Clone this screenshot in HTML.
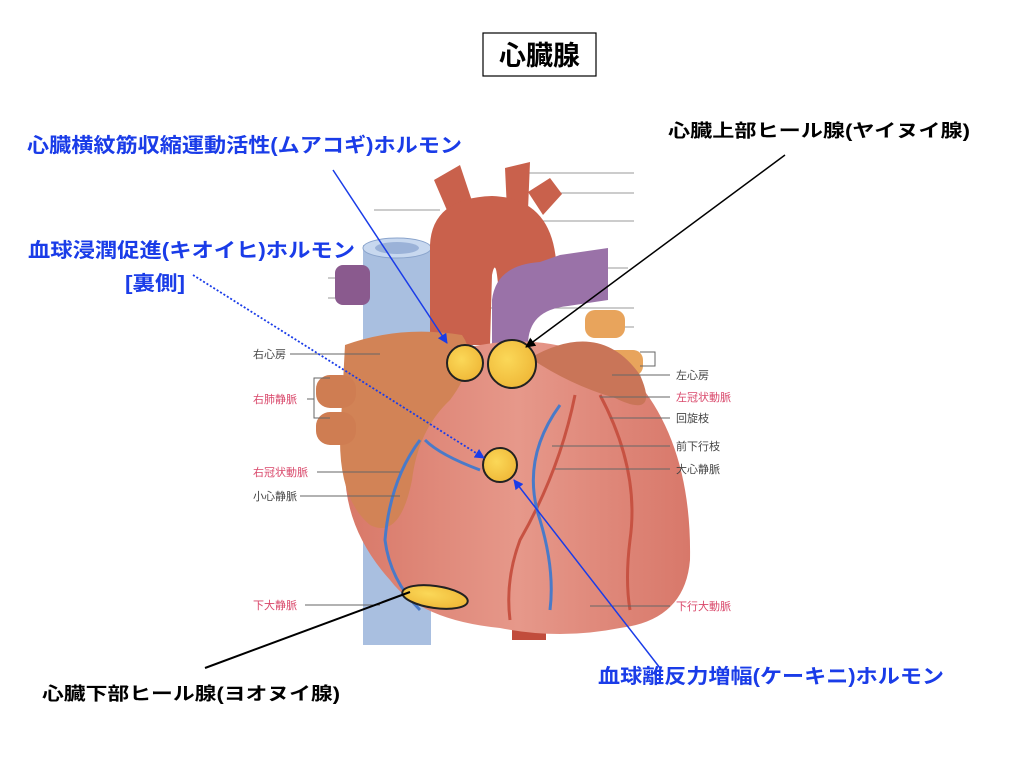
<!DOCTYPE html>
<html><head><meta charset="utf-8"><style>
html,body{margin:0;padding:0;background:#fff;width:1024px;height:768px;overflow:hidden}
svg{display:block}
.t{font-family:"Liberation Sans","Noto Sans CJK JP",sans-serif;font-weight:bold}
.s{font-family:"Liberation Sans","Noto Sans CJK JP",sans-serif;font-size:11px;fill:#444}
.r{fill:#d9476a}
</style></head><body>
<svg width="1024" height="768" viewBox="0 0 1024 768">
<defs>
<marker id="ab" markerWidth="10" markerHeight="10" refX="9" refY="5" orient="auto" markerUnits="userSpaceOnUse"><path d="M0,0 L10,5 L0,10 z" fill="#1a3ce8"/></marker>
<marker id="ak" markerWidth="10" markerHeight="10" refX="9" refY="5" orient="auto" markerUnits="userSpaceOnUse"><path d="M0,0 L10,5 L0,10 z" fill="#000"/></marker>
<radialGradient id="y" cx="0.4" cy="0.4" r="0.7"><stop offset="0" stop-color="#fbd858"/><stop offset="1" stop-color="#eeb535"/></radialGradient>
<linearGradient id="hb" x1="0" y1="0" x2="1" y2="0"><stop offset="0" stop-color="#d87868"/><stop offset="0.5" stop-color="#e6988a"/><stop offset="1" stop-color="#d8786a"/></linearGradient>
</defs>
<text class="t" x="0" y="0" font-size="1"> </text>
<rect x="483" y="33" width="113" height="43" fill="#fff" stroke="#000" stroke-width="1.2"/>
<text class="t" x="539.5" y="65" font-size="27" text-anchor="middle">心臓腺</text>

<g stroke="#999" stroke-width="1">
<line x1="516" y1="173" x2="634" y2="173"/><line x1="547" y1="193" x2="634" y2="193"/>
<line x1="494" y1="221" x2="634" y2="221"/><line x1="374" y1="210" x2="440" y2="210"/>
<line x1="562" y1="268" x2="628" y2="268"/><line x1="456" y1="308" x2="634" y2="308"/>
<line x1="612" y1="327" x2="634" y2="327"/><line x1="328" y1="278" x2="390" y2="278"/>
<line x1="328" y1="298" x2="355" y2="298"/>
</g>
<!-- vena cava -->
<rect x="363" y="245" width="68" height="400" fill="#a9bfe0"/>
<ellipse cx="397" cy="248" rx="34" ry="10" fill="#c8d8ef" stroke="#8aa4cc"/>
<ellipse cx="397" cy="248" rx="22" ry="6" fill="#9bb2d8"/>
<!-- purple -->
<rect x="335" y="265" width="35" height="40" rx="8" fill="#8a5a8e"/>
<!-- aorta branches -->
<path d="M434,180 L460,165 L475,210 L452,222 z" fill="#c9614c"/>
<path d="M505,168 L530,162 L528,210 L507,210 z" fill="#c9614c"/>
<path d="M528,192 L550,178 L562,194 L543,215 z" fill="#c9614c"/>
<!-- aorta arch -->
<path d="M430,345 L430,245 Q432,198 492,196 Q550,198 556,260 L556,300 L500,300 L497,275 Q495,260 492,275 L490,345 z" fill="#c9614c"/>
<!-- pulmonary -->
<path d="M492,345 L492,300 Q496,265 540,262 L560,255 L608,248 L608,300 L568,306 Q528,310 528,345 z" fill="#9a72a8"/>
<!-- orange vessels right -->
<rect x="585" y="310" width="40" height="28" rx="10" fill="#e8a45c"/>
<rect x="605" y="350" width="38" height="26" rx="10" fill="#e8a45c"/>
<!-- descending aorta stub -->
<rect x="512" y="610" width="34" height="30" fill="#c14c3c"/>
<!-- heart body -->
<path d="M345,470 Q355,390 450,352 Q560,320 640,385 Q692,450 690,560 Q685,620 620,628 Q560,640 500,628 Q420,620 390,580 Q345,530 345,470 z" fill="url(#hb)"/>
<path d="M530,358 Q600,318 640,375 Q660,420 615,398 Q570,385 530,358 z" fill="#c97558"/>
<!-- right atrium -->
<path d="M345,345 Q400,325 462,335 Q480,360 450,400 Q418,430 412,480 Q400,540 370,525 Q340,500 340,440 z" fill="#d28356"/>
<rect x="316" y="375" width="40" height="33" rx="14" fill="#cf7d52"/>
<rect x="316" y="412" width="40" height="33" rx="14" fill="#cf7d52"/>
<g fill="none" stroke-width="3">
<path d="M575,395 Q560,470 520,540 Q505,580 510,620" stroke="#c75242"/>
<path d="M600,395 Q640,470 630,540 Q625,580 630,610" stroke="#c75242"/>
<path d="M420,440 Q390,480 385,540 Q390,580 420,610" stroke="#4a7ac8"/>
<path d="M560,405 Q520,460 540,520 Q555,570 550,610" stroke="#4a7ac8"/>
<path d="M480,470 Q440,455 425,440" stroke="#4a7ac8"/>
</g>
<g stroke="#666" stroke-width="1" fill="none">
<line x1="290" y1="354" x2="380" y2="354"/><line x1="307" y1="399" x2="314" y2="399"/>
<polyline points="330,378 314,378 314,418 330,418"/>
<line x1="317" y1="472" x2="400" y2="472"/><line x1="300" y1="496" x2="400" y2="496"/>
<line x1="305" y1="605" x2="380" y2="605"/>
<line x1="612" y1="375" x2="670" y2="375"/><line x1="600" y1="397" x2="670" y2="397"/>
<line x1="610" y1="418" x2="670" y2="418"/><line x1="552" y1="446" x2="670" y2="446"/>
<line x1="555" y1="469" x2="670" y2="469"/><line x1="590" y1="606" x2="670" y2="606"/>
<polyline points="640,352 655,352 655,366 640,366"/>
</g>
<text class="s" x="253" y="358">右心房</text>
<text class="s r" x="253" y="403">右肺静脈</text>
<text class="s r" x="253" y="476">右冠状動脈</text>
<text class="s" x="253" y="500">小心静脈</text>
<text class="s r" x="253" y="609">下大静脈</text>
<text class="s" x="676" y="379">左心房</text>
<text class="s r" x="676" y="401">左冠状動脈</text>
<text class="s" x="676" y="422">回旋枝</text>
<text class="s" x="676" y="450">前下行枝</text>
<text class="s" x="676" y="473">大心静脈</text>
<text class="s r" x="676" y="610">下行大動脈</text>

<g stroke="#222" stroke-width="2" fill="url(#y)">
<circle cx="465" cy="363" r="18"/>
<circle cx="512" cy="364" r="24"/>
<circle cx="500" cy="465" r="17"/>
<ellipse cx="435" cy="597" rx="33" ry="11" transform="rotate(8 435 597)"/>
</g>
<line x1="333" y1="170" x2="447" y2="343" stroke="#1a3ce8" stroke-width="1.5" marker-end="url(#ab)"/>
<line x1="193" y1="275" x2="484" y2="458" stroke="#1a3ce8" stroke-width="1.8" stroke-dasharray="2,2" marker-end="url(#ab)"/>
<line x1="660" y1="668" x2="514" y2="480" stroke="#1a3ce8" stroke-width="1.5" marker-end="url(#ab)"/>
<line x1="785" y1="155" x2="526" y2="347" stroke="#000" stroke-width="1.5" marker-end="url(#ak)"/>
<line x1="205" y1="668" x2="410" y2="592" stroke="#000" stroke-width="2"/>
<text class="t" x="27" y="152" font-size="20" fill="#1a3ce8" textLength="435" lengthAdjust="spacingAndGlyphs">心臓横紋筋収縮運動活性(ムアコギ)ホルモン</text>
<text class="t" x="668" y="137" font-size="18" fill="#000" textLength="302" lengthAdjust="spacingAndGlyphs">心臓上部ヒール腺(ヤイヌイ腺)</text>
<text class="t" x="28" y="257" font-size="20" fill="#1a3ce8" textLength="327" lengthAdjust="spacingAndGlyphs">血球浸潤促進(キオイヒ)ホルモン</text>
<text class="t" x="125" y="290" font-size="20" fill="#1a3ce8" textLength="60" lengthAdjust="spacingAndGlyphs">[裏側]</text>
<text class="t" x="598" y="683" font-size="20" fill="#1a3ce8" textLength="346" lengthAdjust="spacingAndGlyphs">血球離反力増幅(ケーキニ)ホルモン</text>
<text class="t" x="42" y="700" font-size="18" fill="#000" textLength="298" lengthAdjust="spacingAndGlyphs">心臓下部ヒール腺(ヨオヌイ腺)</text>
</svg>
</body></html>
